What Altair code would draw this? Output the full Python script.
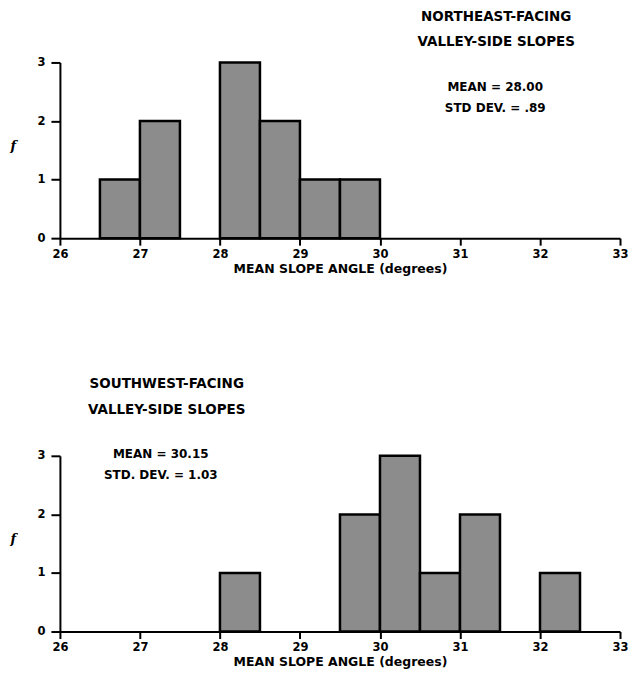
import altair as alt
import pandas as pd

# ---- data ----
x_ticks = [26, 27, 28, 29, 30, 31, 32, 33]
y_ticks = [0, 1, 2, 3]
bin_width = 0.5

ne_bin_start = [26.5, 27.0, 28.0, 28.5, 29.0, 29.5]
ne_counts = [1, 2, 3, 2, 1, 1]

sw_bin_start = [28.0, 29.5, 30.0, 30.5, 31.0, 32.0]
sw_counts = [1, 2, 3, 1, 2, 1]

ne_title = ["NORTHEAST-FACING", "VALLEY-SIDE SLOPES"]
ne_stats = ["MEAN = 28.00", "STD DEV. = .89"]
sw_title = ["SOUTHWEST-FACING", "VALLEY-SIDE SLOPES"]
sw_stats = ["MEAN = 30.15", "STD. DEV. = 1.03"]

FONT = "DejaVu Sans"
W, H = 561, 176


def panel(starts, counts, title_lines, title_xy, stats_lines, stats_xy):
    df = pd.DataFrame({
        "start": starts,
        "end": [s + bin_width for s in starts],
        "count": counts,
    })
    bars = alt.Chart(df).mark_rect(
        fill="#8c8c8c", stroke="black", strokeWidth=2.5
    ).encode(
        x=alt.X(
            "start:Q",
            scale=alt.Scale(domain=[26, 33], nice=False, zero=False),
            axis=alt.Axis(
                values=x_ticks, format="d", title="MEAN SLOPE ANGLE (degrees)",
                tickSize=7, labelPadding=3, titlePadding=3, labelFlush=False,
            ),
        ),
        x2="end:Q",
        y=alt.Y(
            "count:Q",
            scale=alt.Scale(domain=[0, 3], nice=False),
            axis=alt.Axis(
                values=y_ticks, format="d", title="f",
                titleAngle=0, titleX=-50, titleY=H / 2 - 5,
                titleAlign="left", titleBaseline="middle",
                titleFont="DejaVu Serif", titleFontStyle="italic",
                titleFontWeight="bold", titleFontSize=13,
                tickSize=9, labelPadding=6, labelFlush=False,
            ),
        ),
        y2=alt.datum(0),
    )
    layers = [bars]
    tx, ty = title_xy
    for i, line in enumerate(title_lines):
        layers.append(
            alt.Chart().mark_text(
                font=FONT, fontWeight="bold", fontSize=13.5, align="center",
                baseline="middle", color="black",
            ).encode(x=alt.value(tx), y=alt.value(ty + 26 * i), text=alt.value(line))
        )
    sx, sy = stats_xy
    for i, line in enumerate(stats_lines):
        layers.append(
            alt.Chart().mark_text(
                font=FONT, fontWeight="bold", fontSize=12, align="center",
                baseline="middle", color="black",
            ).encode(x=alt.value(sx), y=alt.value(sy + 21 * i), text=alt.value(line))
        )
    return alt.layer(*layers).properties(width=W, height=H)


top = panel(ne_bin_start, ne_counts, ne_title, (437, -46), ne_stats, (436, 25))
bottom = panel(sw_bin_start, sw_counts, sw_title, (107, -72), sw_stats, (101, -2))

chart = alt.vconcat(top, bottom, spacing=102).properties(
    padding={"left": 2, "top": 1, "right": 0, "bottom": 0}
).configure_view(stroke=None).configure_axis(
    grid=False,
    domainColor="black", domainWidth=2,
    tickColor="black", tickWidth=2,
    labelFont=FONT, labelFontWeight="bold", labelFontSize=11.5, labelColor="black",
    titleFont=FONT, titleFontWeight="bold", titleFontSize=12.5, titleColor="black",
)

chart.save("out.html", embed_options={"renderer": "svg", "actions": False})
